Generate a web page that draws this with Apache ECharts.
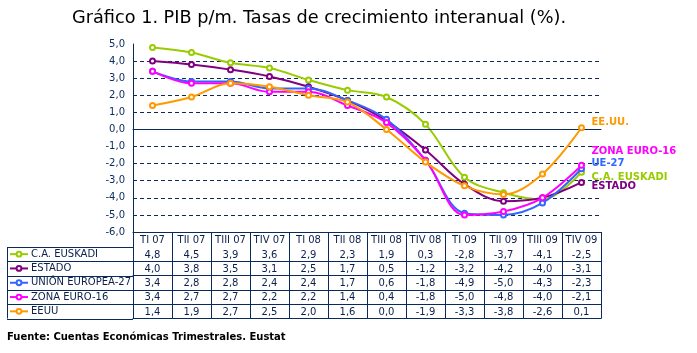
<!DOCTYPE html>
<html>
<head>
<meta charset="utf-8">
<script src="https://cdn.jsdelivr.net/npm/echarts@6/dist/echarts.min.js"></script>
<style>
  html, body { margin: 0; padding: 0; background: #fff; }
  #chart { width: 697px; height: 353px; }
</style>
</head>
<body>
<div id="chart"></div>
<script>
// trimestres
const categories = ['TI 07', 'TII 07', 'TIII 07', 'TIV 07', 'TI 08', 'TII 08', 'TIII 08', 'TIV 08', 'TI 09', 'TII 09', 'TIII 09', 'TIV 09']

// tasas de crecimiento interanual (%)
const euskadi = [4.8, 4.5, 3.9, 3.6, 2.9, 2.3, 1.9, 0.3, -2.8, -3.7, -4.1, -2.5]
const estado = [4.0, 3.8, 3.5, 3.1, 2.5, 1.7, 0.5, -1.2, -3.2, -4.2, -4.0, -3.1]
const ue27 = [3.4, 2.8, 2.8, 2.4, 2.4, 1.7, 0.6, -1.8, -4.9, -5.0, -4.3, -2.3]
const zonaEuro = [3.4, 2.7, 2.7, 2.2, 2.2, 1.4, 0.4, -1.8, -5.0, -4.8, -4.0, -2.1]
const eeuu = [1.4, 1.9, 2.7, 2.5, 2.0, 1.6, 0.0, -1.9, -3.3, -3.8, -2.6, 0.1]

const yMin = -6
const yMax = 5
const yStep = 1

const seriesList = [
    { name: 'C.A. EUSKADI', tag: 'C.A. EUSKADI', data: euskadi, color: '#99cc00', labelOffset: [2, 5] },
    { name: 'ESTADO', tag: 'ESTADO', data: estado, color: '#800080', labelOffset: [2, 3.5] },
    { name: 'UNIÓN EUROPEA-27', tag: 'UE-27', data: ue27, color: '#3366ff', labelOffset: [2, -5] },
    { name: 'ZONA EURO-16', tag: 'ZONA EURO-16', data: zonaEuro, color: '#ff00ff', labelOffset: [2, -14] },
    { name: 'EEUU', tag: 'EE.UU.', data: eeuu, color: '#ff9900', labelOffset: [2, -5] }
]

const navy = '#0b2a5c'
const textColor = '#0b1f4a'
const font = 'DejaVu Sans'

const gridLeft = 133
const gridRight = 601
const gridTop = 44
const gridBottom = 232
const headerH = 15
const rowH = 14.3

const fmt = v => v.toFixed(1).replace('.', ',')

// una fila de la tabla = un eje x extra
const rowAxes = seriesList.map((s, i) => ({
    type: 'category',
    data: categories,
    position: 'bottom',
    offset: headerH + rowH * i,
    axisLine: { show: true, lineStyle: { color: navy, width: 1 } },
    axisTick: { show: false },
    axisLabel: {
        interval: 0,
        margin: 3,
        fontFamily: font,
        fontSize: 10,
        color: textColor,
        formatter: (val, idx) => fmt(s.data[idx])
    }
}))

// borde inferior de la tabla
rowAxes.push({
    type: 'category',
    data: categories,
    position: 'bottom',
    offset: headerH + rowH * seriesList.length,
    axisLine: { show: true, lineStyle: { color: navy, width: 1 } },
    axisTick: { show: false },
    axisLabel: { show: false }
})

const tableBottom = gridBottom + headerH + rowH * seriesList.length

// bordes de la columna de nombres
const leftBorders = [
    { type: 'line', shape: { x1: 7.5, y1: gridBottom + headerH, x2: 7.5, y2: tableBottom }, style: { stroke: navy, lineWidth: 1 } }
]
for (let i = 0; i <= seriesList.length; i++) {
    const y = Math.round(gridBottom + headerH + rowH * i) + 0.5
    leftBorders.push({ type: 'line', shape: { x1: 7, y1: y, x2: gridLeft, y2: y }, style: { stroke: navy, lineWidth: 1 } })
}

const splitColors = []
for (let v = yMin; v <= yMax; v += yStep) splitColors.push(v === yMax ? 'transparent' : navy)

const chart = echarts.init(document.getElementById('chart'))
chart.setOption({
    animation: false,
    backgroundColor: '#fff',
    title: [
        {
            text: 'Gráfico 1. PIB p/m. Tasas de crecimiento interanual (%).',
            left: 67,
            top: 4,
            textStyle: { fontFamily: font, fontSize: 17.7, fontWeight: 'normal', color: '#000' }
        },
        {
            text: 'Fuente: Cuentas Económicas Trimestrales. Eustat',
            left: 2,
            top: 327,
            textStyle: { fontFamily: font, fontSize: 10, fontWeight: 'bold', color: '#000' }
        }
    ],
    legend: {
        orient: 'vertical',
        left: 9,
        top: gridBottom + headerH,
        padding: 0,
        itemGap: 0,
        itemWidth: 18,
        itemHeight: 6,
        selectedMode: false,
        data: seriesList.map(s => s.name),
        textStyle: { fontFamily: font, fontSize: 10, color: textColor, lineHeight: rowH, padding: [0, 0, 0, -2] }
    },
    grid: {
        left: gridLeft,
        right: 697 - gridRight,
        top: gridTop,
        bottom: 353 - gridBottom,
        containLabel: false
    },
    xAxis: [
        {
            type: 'category',
            data: categories,
            boundaryGap: true,
            position: 'bottom',
            axisLine: { show: true, onZero: false, lineStyle: { color: navy, width: 1 } },
            axisTick: { show: true, interval: 0, length: tableBottom - gridBottom, lineStyle: { color: navy, width: 1 } },
            axisLabel: { interval: 0, margin: 3, fontFamily: font, fontSize: 10, color: textColor },
            splitLine: { show: false }
        },
        ...rowAxes
    ],
    yAxis: {
        type: 'value',
        min: yMin,
        max: yMax,
        interval: yStep,
        axisLine: { show: true, lineStyle: { color: navy, width: 1 } },
        axisTick: { show: false },
        axisLabel: { fontFamily: font, fontSize: 10, color: navy, margin: 8, formatter: v => fmt(v) },
        splitLine: { show: true, lineStyle: { color: splitColors, type: [4, 3], width: 1 } }
    },
    graphic: leftBorders,
    series: seriesList.map((s, i) => ({
        name: s.name,
        type: 'line',
        data: s.data,
        smooth: 0.35,
        symbol: 'emptyCircle',
        symbolSize: 5,
        color: s.color,
        lineStyle: { width: 2, color: s.color },
        itemStyle: { color: s.color, borderWidth: 1 },
        z: 3 + i,
        endLabel: {
            show: true,
            formatter: s.tag,
            offset: s.labelOffset,
            fontFamily: font,
            fontSize: 10,
            fontWeight: 'bold',
            color: s.color
        },
        markLine: i === 0 ? {
            silent: true,
            symbol: 'none',
            label: { show: false },
            lineStyle: { color: navy, type: 'solid', width: 1 },
            data: [{ yAxis: 0 }]
        } : undefined
    }))
})
</script>
</body>
</html>
